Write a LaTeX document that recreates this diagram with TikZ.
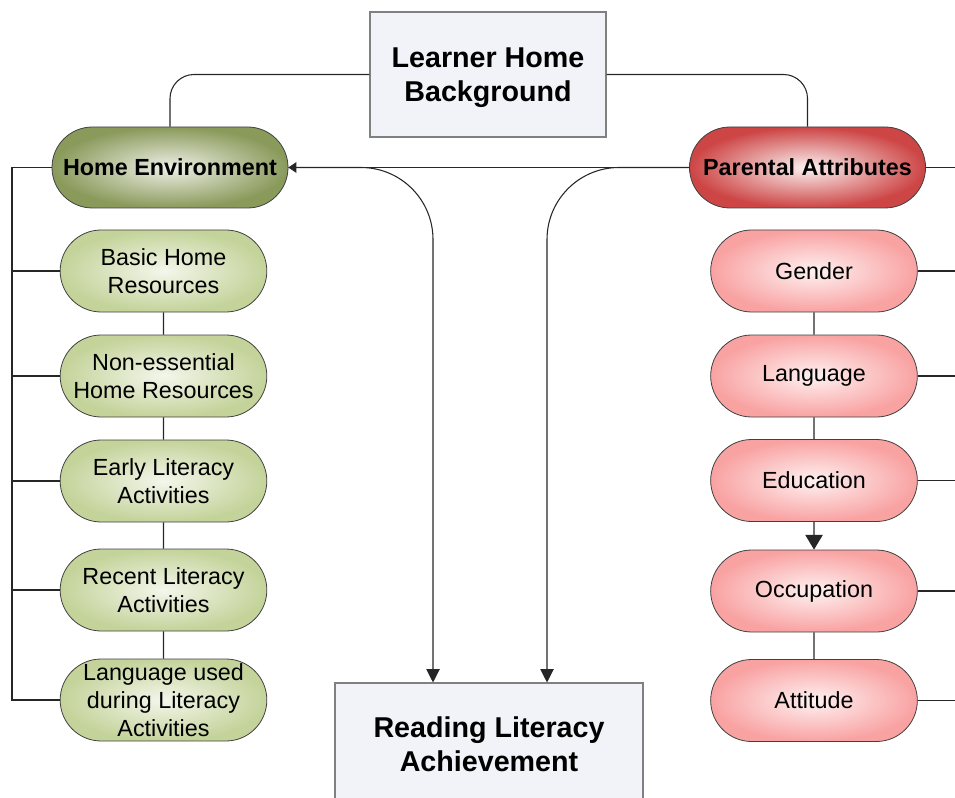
\documentclass[tikz,border=0pt]{standalone}
\usepackage{fontspec}
\setmainfont{Liberation Sans}
\usetikzlibrary{positioning,shapes.misc,arrows.meta,calc}
\definecolor{boxfill}{HTML}{F2F3F8}
\definecolor{boxline}{HTML}{808080}
\definecolor{envdark}{HTML}{8A9A5B}
\definecolor{envlight}{HTML}{C4D39A}
\definecolor{parentdark}{HTML}{CD4545}
\definecolor{parentlight}{HTML}{F9A2A2}
\tikzset{
  link/.style={draw=black!85, line width=0.8pt},
  titlebox/.style={rectangle, draw=boxline, fill=boxfill, line width=0.8pt, align=center, text depth=0pt,
    font=\fontsize{21.5}{26}\selectfont\bfseries},
  pill/.style={rounded rectangle, draw=black!75, line width=0.6pt, align=center, inner sep=0pt,
    font=\fontsize{17.5}{21}\selectfont, minimum width=155pt, minimum height=61.5pt, shading=radial},
  headpill/.style={pill, minimum width=177pt, minimum height=60.75pt, font=\fontsize{17.5}{21}\selectfont\bfseries},
  envhead/.style={headpill, inner color=envdark!15!white, outer color=envdark},
  envpill/.style={pill, inner color=envlight!20!white, outer color=envlight},
  parenthead/.style={headpill, inner color=parentdark!8!white, outer color=parentdark},
  parentpill/.style={pill, inner color=parentlight!15!white, outer color=parentlight}
}
\begin{document}
\begin{tikzpicture}[x=0.75pt,y=-0.75pt]
  \useasboundingbox (0,0) rectangle (955,798);
  \clip (0,0) rectangle (955,798);
  \node[titlebox, minimum width=177pt, minimum height=93.75pt] (home) at (488,74.5) {Learner Home\\Background};
  \node[titlebox, minimum width=231pt, minimum height=91.5pt] (reading) at (489,744) {Reading Literacy\\Achievement};
  \node[envhead] (homeenv) at (170,167.5) {Home Environment};
  \node[parenthead] (parental) at (807.5,167.5) {Parental Attributes};
  \node[envpill] (basic) at (163.5,271) {Basic Home\\Resources};
  \node[envpill] (nonessential) at (163.5,376) {Non-essential\\Home Resources};
  \node[envpill] (earlylit) at (163.5,481) {Early Literacy\\Activities};
  \node[envpill] (recentlit) at (163.5,590) {Recent Literacy\\Activities};
  \node[envpill] (langused) at (163.5,700) {Language used\\during Literacy\\Activities};
  \node[parentpill] (gender) at (814,271) {Gender};
  \node[parentpill] (language) at (814,376) {Language};
  \node[parentpill] (education) at (814,480.5) {Education};
  \node[parentpill] (occupation) at (814,591) {Occupation};
  \node[parentpill] (attitude) at (814,700.5) {Attitude};
  \coordinate (lspine) at (12,0);
  \coordinate (rspine) at (956,0);
  \coordinate (inl) at ($(reading.north)+(-56,0)$);
  \coordinate (inr) at ($(reading.north)+(58,0)$);
  \draw[link, rounded corners=18pt] (home.west) -| (homeenv.north);
  \draw[link, rounded corners=18pt] (home.east) -| (parental.north);
  \draw[link, -{Triangle[length=6pt,width=8pt]}] (parental.west) -- (homeenv.east);
  \draw[link, rounded corners=54pt, -{Triangle[length=10pt,width=10pt]}] (homeenv.east) -| (inl);
  \draw[link, rounded corners=54pt, -{Triangle[length=10pt,width=10pt]}] (parental.west) -| (inr);
  \draw[link] (homeenv.west) -- (homeenv.west -| lspine) -- (langused.west -| lspine) -- (langused.west);
  \foreach \n in {basic,nonessential,earlylit,recentlit}
    \draw[link] (\n.west) -- (\n.west -| lspine);
  \foreach \n in {parental,gender,language,education,occupation,attitude}
    \draw[link] (\n.east) -- (\n.east -| rspine);
  \foreach \a/\b in {basic/nonessential,nonessential/earlylit,earlylit/recentlit,recentlit/langused,gender/language,language/education,occupation/attitude}
    \draw[link] (\a) -- (\b);
  \draw[link, -{Triangle[length=11pt,width=13pt]}] (education) -- (occupation);
\end{tikzpicture}
\end{document}
